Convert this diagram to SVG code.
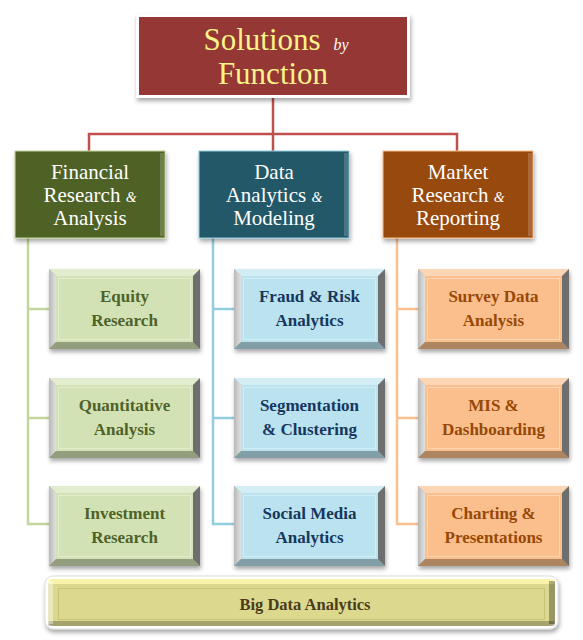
<svg xmlns="http://www.w3.org/2000/svg" xmlns:xlink="http://www.w3.org/1999/xlink" width="583" height="640" viewBox="0 0 583 640">
<defs>
  <filter id="sh" x="-10%" y="-10%" width="125%" height="135%">
    <feDropShadow dx="1" dy="3" stdDeviation="2" flood-color="#000" flood-opacity="0.35"/>
  </filter>
  <linearGradient id="lft" x1="0" y1="0" x2="1" y2="0">
    <stop offset="0" stop-color="#fff" stop-opacity="0.3"/>
    <stop offset="1" stop-color="#fff" stop-opacity="0.7"/>
  </linearGradient>
  <g id="bevel">
    <polygon points="0,0 151,0 144,7 7,7" fill="#fff" fill-opacity="0.35"/>
    <polygon points="0,0 7,7 7,73 0,80" fill="#9a9a9a"/>
    <polygon points="0,0 7,7 7,73 0,80" fill="url(#lft)"/>
    <polygon points="151,0 151,80 144,73 144,7" fill="#6e6e6e"/>
    <polygon points="0,80 151,80 144,73 7,73" fill="#000" fill-opacity="0.3"/>
    <rect x="9.5" y="9.5" width="132" height="61" fill="none" stroke="#fff" stroke-opacity="0.35" stroke-width="1"/>
  </g>
  <style>
    .sub{font-family:"Liberation Serif","Times New Roman",serif;font-weight:bold;font-size:17px;text-anchor:middle}
    .cat{font-family:"Liberation Serif","Times New Roman",serif;font-size:21px;fill:#fff;text-anchor:middle}
    .amp{font-style:italic;font-size:14px}
    .g{fill:#d3e2b5}.gt{fill:#4f6228}
    .b{fill:#bae3ef}.bt{fill:#17375e}
    .o{fill:#fabf8c}.ot{fill:#984807}
    .edge{fill:#fff;fill-opacity:0.18}
  </style>
</defs>

<g id="connectors" fill="none" stroke-width="2.5">
  <path d="M273,95 V134 M89,151 V134 H457 V151 M273,134 V151" stroke="#c0504d"/>
  <path d="M28,238 V524 H49 M28,309 H49 M28,418 H49" stroke="#c3d69b"/>
  <path d="M213,238 V524 H234 M213,309 H234 M213,418 H234" stroke="#93cddd"/>
  <path d="M397,238 V524 H418 M397,309 H418 M397,418 H418" stroke="#fac090"/>
</g>

<g id="title">
  <rect x="136" y="14" width="274" height="84" fill="#fff" filter="url(#sh)"/>
  <rect x="139" y="17" width="268" height="78" fill="#953735"/>
  <text x="262" y="50" font-family="Liberation Serif,serif" font-size="31" fill="#faf38a" text-anchor="middle">Solutions</text>
  <text x="341" y="50" font-family="Liberation Serif,serif" font-size="16" font-style="italic" fill="#fff" text-anchor="middle">by</text>
  <text x="273" y="84" font-family="Liberation Serif,serif" font-size="31" fill="#faf38a" text-anchor="middle">Function</text>
</g>

<g id="cat-financial">
  <rect x="15" y="151" width="150" height="87" fill="#4f6228" stroke="#c3d69b" stroke-width="1" filter="url(#sh)"/>
  <rect class="edge" x="160" y="153" width="4" height="83"/>
  <text class="cat"><tspan x="90" y="179">Financial</tspan><tspan x="90" y="202">Research <tspan class="amp">&amp;</tspan></tspan><tspan x="90" y="225">Analysis</tspan></text>
</g>
<g id="cat-data">
  <rect x="199" y="151" width="150" height="87" fill="#215968" stroke="#93cddd" stroke-width="1" filter="url(#sh)"/>
  <rect class="edge" x="344" y="153" width="4" height="83"/>
  <text class="cat"><tspan x="274" y="179">Data</tspan><tspan x="274" y="202">Analytics <tspan class="amp">&amp;</tspan></tspan><tspan x="274" y="225">Modeling</tspan></text>
</g>
<g id="cat-market">
  <rect x="383" y="151" width="150" height="87" fill="#984807" stroke="#fac090" stroke-width="1" filter="url(#sh)"/>
  <rect class="edge" x="528" y="153" width="4" height="83"/>
  <text class="cat"><tspan x="458" y="179">Market</tspan><tspan x="458" y="202">Research <tspan class="amp">&amp;</tspan></tspan><tspan x="458" y="225">Reporting</tspan></text>
</g>

<g id="equity">
  <rect class="g" x="49" y="269" width="151" height="80" filter="url(#sh)"/>
  <use xlink:href="#bevel" x="49" y="269"/>
  <text class="sub gt"><tspan x="124.5" y="302">Equity</tspan><tspan x="124.5" y="326">Research</tspan></text>
</g>
<g id="quantitative">
  <rect class="g" x="49" y="378" width="151" height="80" filter="url(#sh)"/>
  <use xlink:href="#bevel" x="49" y="378"/>
  <text class="sub gt"><tspan x="124.5" y="411">Quantitative</tspan><tspan x="124.5" y="435">Analysis</tspan></text>
</g>
<g id="investment">
  <rect class="g" x="49" y="486" width="151" height="80" filter="url(#sh)"/>
  <use xlink:href="#bevel" x="49" y="486"/>
  <text class="sub gt"><tspan x="124.5" y="519">Investment</tspan><tspan x="124.5" y="543">Research</tspan></text>
</g>

<g id="fraud">
  <rect class="b" x="234" y="269" width="151" height="80" filter="url(#sh)"/>
  <use xlink:href="#bevel" x="234" y="269"/>
  <text class="sub bt"><tspan x="309.5" y="302">Fraud &amp; Risk</tspan><tspan x="309.5" y="326">Analytics</tspan></text>
</g>
<g id="segmentation">
  <rect class="b" x="234" y="378" width="151" height="80" filter="url(#sh)"/>
  <use xlink:href="#bevel" x="234" y="378"/>
  <text class="sub bt"><tspan x="309.5" y="411">Segmentation</tspan><tspan x="309.5" y="435">&amp; Clustering</tspan></text>
</g>
<g id="social">
  <rect class="b" x="234" y="486" width="151" height="80" filter="url(#sh)"/>
  <use xlink:href="#bevel" x="234" y="486"/>
  <text class="sub bt"><tspan x="309.5" y="519">Social Media</tspan><tspan x="309.5" y="543">Analytics</tspan></text>
</g>

<g id="survey">
  <rect class="o" x="418" y="269" width="151" height="80" filter="url(#sh)"/>
  <use xlink:href="#bevel" x="418" y="269"/>
  <text class="sub ot"><tspan x="493.5" y="302">Survey Data</tspan><tspan x="493.5" y="326">Analysis</tspan></text>
</g>
<g id="mis">
  <rect class="o" x="418" y="378" width="151" height="80" filter="url(#sh)"/>
  <use xlink:href="#bevel" x="418" y="378"/>
  <text class="sub ot"><tspan x="493.5" y="411">MIS &amp;</tspan><tspan x="493.5" y="435">Dashboarding</tspan></text>
</g>
<g id="charting">
  <rect class="o" x="418" y="486" width="151" height="80" filter="url(#sh)"/>
  <use xlink:href="#bevel" x="418" y="486"/>
  <text class="sub ot"><tspan x="493.5" y="519">Charting &amp;</tspan><tspan x="493.5" y="543">Presentations</tspan></text>
</g>

<g id="bigdata">
  <rect x="45" y="576" width="513" height="53" rx="8" fill="#fff" stroke="#ddd" filter="url(#sh)"/>
  <rect x="48" y="579" width="507" height="47" rx="6" fill="#dcd98f"/>
  <rect x="48" y="579" width="507" height="5" rx="2" fill="#fff7b0" fill-opacity="0.8"/>
  <rect x="48" y="621" width="507" height="5" rx="2" fill="#000" fill-opacity="0.25"/>
  <rect x="549" y="581" width="6" height="43" fill="#000" fill-opacity="0.3"/>
  <rect x="48" y="581" width="5" height="43" fill="#fff" fill-opacity="0.4"/>
  <rect x="58.5" y="588.5" width="486" height="31" fill="none" stroke="#c7c47a" stroke-width="1"/>
  <text x="305" y="610" font-family="Liberation Serif,serif" font-weight="bold" font-size="16.5" fill="#4a3b1e" text-anchor="middle">Big Data Analytics</text>
</g>
</svg>
